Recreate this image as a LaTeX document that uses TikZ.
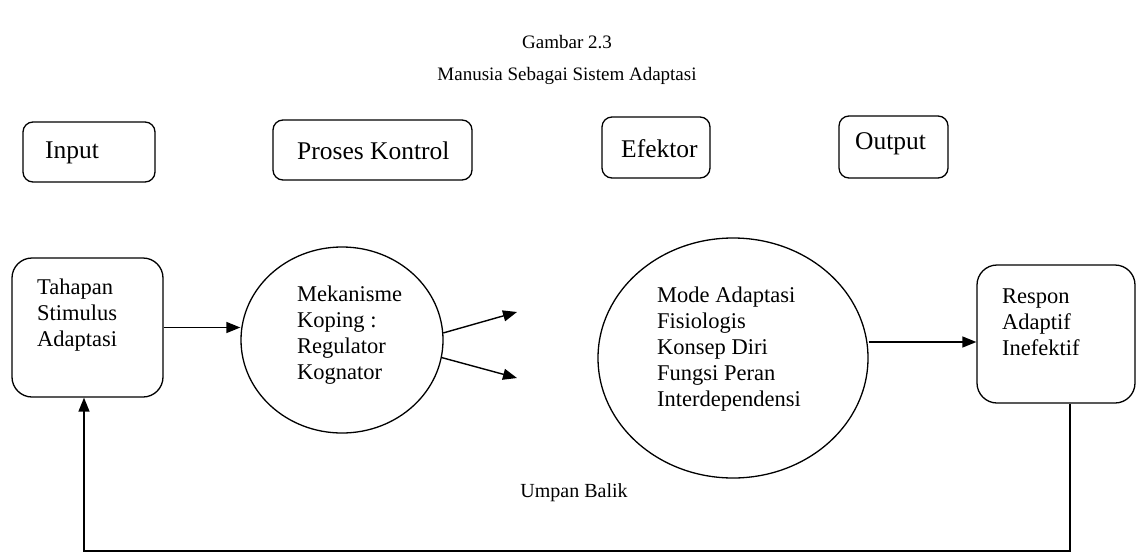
\documentclass[tikz,border=0pt]{standalone}
\usepackage{fontspec}
\setmainfont{Liberation Serif}
\usetikzlibrary{shapes.geometric,arrows.meta,calc}
\tikzset{
  boxnode/.style={draw,rectangle,rounded corners=10pt,inner sep=0pt,line width=1.3pt},
  bigbox/.style={boxnode,rounded corners=20pt},
  ovalnode/.style={draw,ellipse,inner sep=0pt,line width=1.3pt},
  txt/.style={inner sep=0pt,anchor=west,align=left,font=\fontsize{22.5}{26}\selectfont},
  hdr/.style={inner sep=0pt,anchor=west,font=\fontsize{25.5}{28}\selectfont},
  ttl/.style={inner sep=0pt,font=\fontsize{19}{22}\selectfont},
  arr/.style={line width=1.4pt,-{Triangle[length=14pt,width=11pt]}},
}
\begin{document}
\begin{tikzpicture}[x=1pt,y=-1pt]
\useasboundingbox[fill=white] (0,0) rectangle (1142,554);
% titles
\node[ttl] (t1) at (567,42) {Gambar 2.3};
\node[ttl] (t2) at (567,76) {Manusia Sebagai Sistem Adaptasi};
% header boxes
\node[boxnode,minimum width=132pt,minimum height=60pt] (inp) at (89,152) {};
\node[hdr] (inpT) at (45,153) {Input};
\node[boxnode,minimum width=199pt,minimum height=60pt] (pro) at (372.5,150) {};
\node[hdr] (proT) at (297,151) {Proses Kontrol};
\node[boxnode,minimum width=108pt,minimum height=61pt] (efk) at (656,147.5) {};
\node[hdr] (efkT) at (621,149) {Efektor};
\node[boxnode,minimum width=109pt,minimum height=62pt] (out) at (893.5,147) {};
\node[hdr] (outT) at (855,144) {Output};
% main row
\node[bigbox,minimum width=151pt,minimum height=139pt] (tah) at (87.5,327.5) {};
\node[txt] (tahT) at (37,315) {Tahapan\\Stimulus\\Adaptasi};
\node[ovalnode,minimum width=202pt,minimum height=186pt] (ell1) at (342,340) {};
\node[txt] (ell1T) at (297,335) {Mekanisme\\Koping :\\Regulator\\Kognator};
\node[ovalnode,minimum width=270pt,minimum height=240pt] (ell2) at (733,358) {};
\node[txt] (ell2T) at (657,349) {Mode Adaptasi\\Fisiologis\\Konsep Diri\\Fungsi Peran\\Interdependensi};
\node[bigbox,minimum width=158pt,minimum height=138pt] (res) at (1056,334) {};
\node[txt] (resT) at (1002,322) {Respon\\Adaptif\\Inefektif};
\node[ttl,font=\fontsize{20}{24}\selectfont] (ub) at (574,493) {Umpan Balik};
% connectors
\coordinate (u1) at (517,312);
\coordinate (u2) at (517,378);
\coordinate (fbR) at (1070,551);
\coordinate (fbL) at (84,551);
\draw[arr] (tah.east) -- (tah.east -| ell1.west);
\draw[arr] (ell1.4) -- (u1);
\draw[arr] (ell1.-10) -- (u2);
\draw[arr] (ell2.east |- 0,342) -- (res.west |- 0,342);
\draw[arr] (res.south -| fbR) -- (fbR) -- (fbL) -- (tah.south -| fbL);
\end{tikzpicture}
\end{document}
